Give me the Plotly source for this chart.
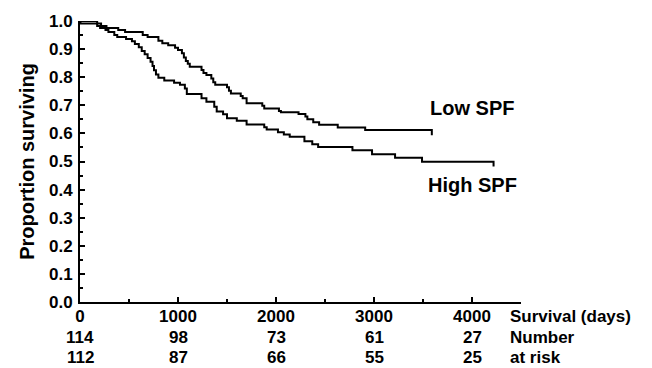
import plotly.graph_objects as go

# Kaplan-Meier step data (days, proportion surviving)
low_t = [0, 175, 215, 270, 390, 460, 640, 690, 800, 840, 900, 970, 1000, 1040, 1060, 1080, 1100, 1120,
         1240, 1260, 1290, 1340, 1360, 1380, 1500, 1520, 1540, 1640, 1660, 1700, 1860, 1880, 2030, 2050,
         2230, 2300, 2320, 2380, 2440, 2630, 2910, 3590, 3590]
low_s = [1.0, 0.991, 0.982, 0.975, 0.968, 0.961, 0.950, 0.943, 0.930, 0.921, 0.914, 0.905, 0.897, 0.885,
         0.870, 0.858, 0.848, 0.837, 0.826, 0.815, 0.808, 0.795, 0.782, 0.773, 0.764, 0.752, 0.742, 0.733,
         0.725, 0.707, 0.698, 0.689, 0.680, 0.675, 0.669, 0.660, 0.650, 0.640, 0.631, 0.621, 0.612, 0.612,
         0.593]

high_t = [0, 5, 175, 205, 260, 290, 350, 380, 470, 530, 560, 600, 630, 660, 690, 720, 740, 755, 775, 800,
          860, 960, 1020, 1070, 1090, 1240, 1290, 1370, 1395, 1460, 1500, 1600, 1700, 1880, 1905, 2020,
          2080, 2140, 2290, 2370, 2430, 2780, 2980, 3215, 3490, 4220, 4220]
high_s = [1.0, 0.991, 0.982, 0.975, 0.968, 0.961, 0.950, 0.943, 0.936, 0.928, 0.918, 0.907, 0.893, 0.882,
          0.868, 0.855, 0.840, 0.825, 0.810, 0.798, 0.788, 0.780, 0.773, 0.760, 0.740, 0.725, 0.713, 0.695,
          0.678, 0.668, 0.654, 0.645, 0.632, 0.622, 0.614, 0.604, 0.596, 0.588, 0.572, 0.561, 0.552, 0.540,
          0.526, 0.513, 0.499, 0.499, 0.482]

risk_days = [0, 1000, 2000, 3000, 4000]
risk_low = [114, 98, 73, 61, 27]
risk_high = [112, 87, 66, 55, 25]

FONT = "Liberation Sans, Arial, Helvetica, sans-serif"
W = "bold"

fig = go.Figure()
fig.add_trace(go.Scatter(x=low_t, y=low_s, mode="lines", line=dict(color="black", width=2, shape="hv"),
                         name="Low SPF", showlegend=False))
fig.add_trace(go.Scatter(x=high_t, y=high_s, mode="lines", line=dict(color="black", width=2, shape="hv"),
                         name="High SPF", showlegend=False))

fig.add_annotation(x=4000, y=0.69, xref="x", yref="y", text="Low SPF", showarrow=False,
                   xanchor="center", yanchor="middle", font=dict(family=FONT, size=20, color="black", weight=W))
fig.add_annotation(x=4000, y=0.418, xref="x", yref="y", text="High SPF", showarrow=False,
                   xanchor="center", yanchor="middle", font=dict(family=FONT, size=20, color="black", weight=W))

fig.add_annotation(x=4370, y=0, xref="x", yref="paper", yshift=-14, text="Survival (days)", showarrow=False,
                   xanchor="left", yanchor="middle", font=dict(family=FONT, size=17, color="black", weight=W))
fig.add_annotation(x=4370, y=0, xref="x", yref="paper", yshift=-35, text="Number", showarrow=False,
                   xanchor="left", yanchor="middle", font=dict(family=FONT, size=17, color="black", weight=W))
fig.add_annotation(x=4370, y=0, xref="x", yref="paper", yshift=-55, text="at risk", showarrow=False,
                   xanchor="left", yanchor="middle", font=dict(family=FONT, size=17, color="black", weight=W))

for d, a, b in zip(risk_days, risk_low, risk_high):
    fig.add_annotation(x=d, y=0, xref="x", yref="paper", yshift=-35, text=str(a), showarrow=False,
                       xanchor="center", yanchor="middle", font=dict(family=FONT, size=17, color="black", weight=W))
    fig.add_annotation(x=d, y=0, xref="x", yref="paper", yshift=-55, text=str(b), showarrow=False,
                       xanchor="center", yanchor="middle", font=dict(family=FONT, size=17, color="black", weight=W))

fig.update_layout(
    width=652, height=368,
    margin=dict(l=80, r=131, t=19, b=66),
    paper_bgcolor="white", plot_bgcolor="white",
    font=dict(family=FONT, size=17, color="black", weight=W),
    xaxis=dict(range=[0, 4500], tickvals=risk_days, ticks="inside", ticklen=5, tickwidth=1.5,
               tickcolor="black", showline=True, linecolor="black", linewidth=2, showgrid=False,
               zeroline=False, tickfont=dict(size=17, weight=W), ticklabelstandoff=-2,
               minor=dict(dtick=500, ticks="inside", ticklen=3, tickwidth=1.5, tickcolor="black", showgrid=False)),
    yaxis=dict(range=[0, 1.0], dtick=0.1, tickformat=".1f", ticks="inside", ticklen=5, tickwidth=1.5,
               tickcolor="black", showline=True, linecolor="black", linewidth=2, showgrid=False,
               zeroline=False, tickfont=dict(size=17, weight=W), ticklabelstandoff=2,
               title=dict(text="Proportion surviving", font=dict(size=20, weight=W), standoff=9),
               minor=dict(dtick=0.05, ticks="inside", ticklen=3, tickwidth=1.5, tickcolor="black", showgrid=False)),
)

fig.write_html("out.html")
